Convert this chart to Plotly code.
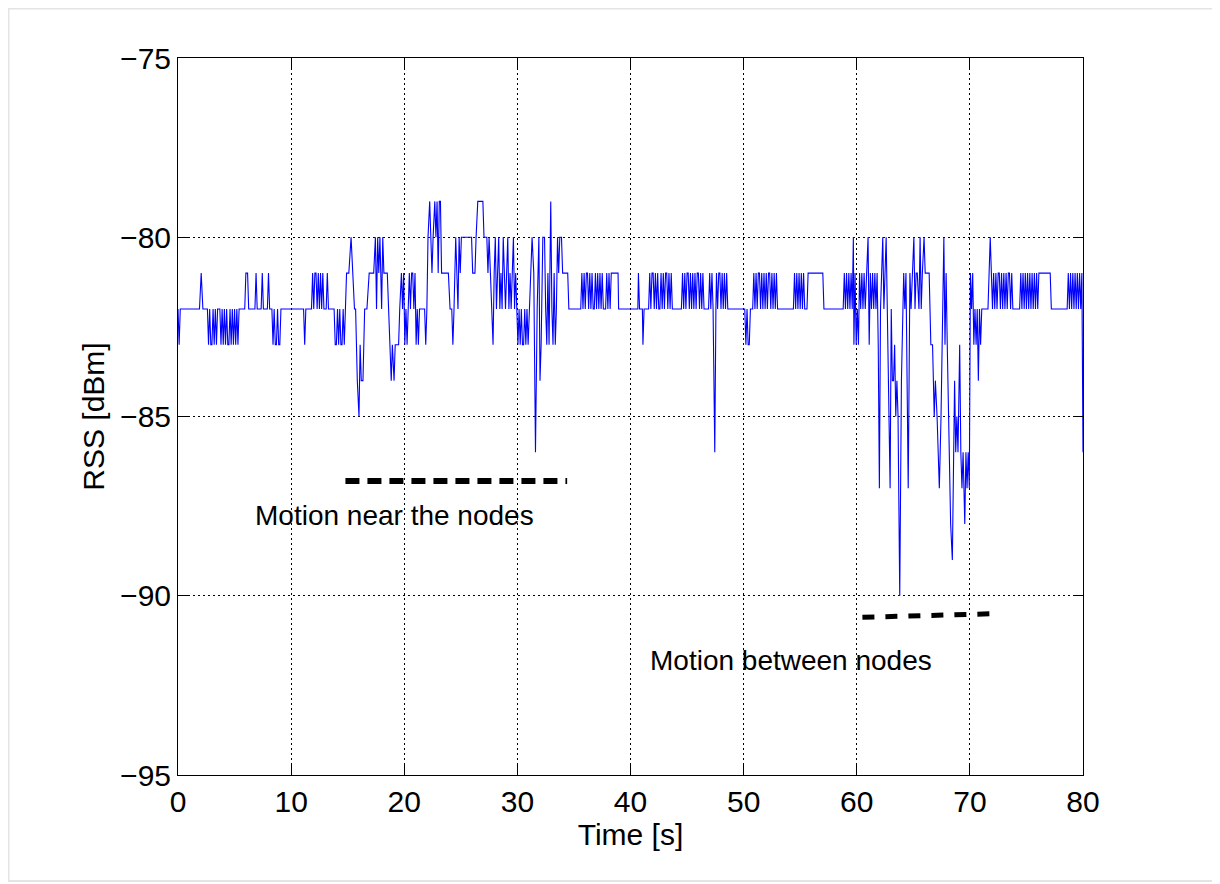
import plotly.graph_objects as go

# ---- RSS trace: (time [s], RSS [dBm]) ----
rss_00_10 = [(0.0,-82),(0.1,-83),(0.2,-82),(1.9,-82),(2.05,-81),(2.2,-82),(2.6,-82),(2.7,-83),(2.8,-82),(2.9,-83),
             (3.0,-83),(3.1,-82),(3.2,-83),(3.3,-82),(3.4,-83),(3.5,-82),(3.7,-82),(3.8,-83),(3.9,-82),(4.0,-83),
             (4.1,-82),(4.2,-83),(4.3,-82),(4.4,-83),(4.5,-83),(4.6,-82),(4.7,-83),(4.8,-82),(4.9,-83),(5.0,-82),
             (5.1,-83),(5.2,-82),(5.3,-83),(5.4,-82),(5.9,-82),(6.0,-81),(6.15,-81),(6.25,-82),(6.8,-82),(6.9,-81),
             (7.0,-82),(7.35,-82),(7.45,-81),(7.55,-82),(7.9,-82),(8.0,-81),(8.1,-82),(8.3,-82),(8.4,-83),(8.5,-82),
             (8.6,-83),(8.7,-83),(8.8,-82),(8.9,-83),(9.0,-83),(9.1,-82),(10.0,-82)]
rss_10_20 = [(11.1,-82),(11.2,-83),(11.3,-82),(11.8,-82),(11.9,-81),(12.0,-82),(12.1,-81),(12.2,-81),(12.3,-82),(12.4,-81),
             (12.5,-82),(12.6,-81),(12.7,-82),(12.8,-81),(12.9,-82),(13.1,-82),(13.2,-81),(13.3,-82),(13.8,-82),(13.9,-83),
             (14.0,-83),(14.1,-82),(14.2,-83),(14.3,-82),(14.4,-83),(14.5,-83),(14.6,-82),(14.7,-83),(14.8,-82),(14.9,-81),
             (15.1,-81),(15.3,-80),(15.45,-81),(15.6,-82),(15.7,-82),(15.85,-84),(16.0,-85),(16.1,-83),(16.2,-84),(16.35,-84),
             (16.5,-82),(16.7,-82),(16.9,-81),(17.3,-81),(17.45,-80),(17.55,-82),(17.65,-80),(17.75,-81),(17.85,-80),(18.0,-82),
             (18.1,-80),(18.2,-81),(18.5,-81),(18.6,-82),(18.7,-83),(18.85,-84),(18.95,-83),(19.1,-84),(19.2,-83),(19.5,-83),
             (19.6,-82),(19.75,-81),(19.85,-82),(19.95,-81)]
rss_20_30 = [(20.05,-83),(20.15,-82),(20.25,-83),(20.35,-82),(20.45,-81),(20.55,-82),(20.65,-81),(20.75,-81),(20.85,-82),(20.95,-81),
             (21.05,-83),(21.15,-82),(21.25,-83),(21.35,-82),(21.8,-82),(21.9,-83),(22.0,-82),(22.1,-80),(22.25,-79),(22.35,-80),
             (22.45,-81),(22.55,-80),(22.7,-79),(22.8,-80),(22.9,-79),(23.0,-81),(23.1,-79),(23.2,-79),(23.3,-81),(23.9,-81),
             (24.05,-82),(24.2,-82),(24.3,-83),(24.4,-82),(24.55,-80),(24.65,-81),(24.75,-82),(24.85,-80),(24.95,-81),(25.05,-80),
             (25.95,-80),(26.05,-81),(26.25,-81),(26.35,-80),(26.5,-79),(26.95,-79),(27.05,-80),(27.3,-80),(27.4,-81),(27.5,-80),
             (27.6,-81),(27.7,-82),(27.85,-83),(27.95,-81),(28.05,-80),(28.15,-82),(28.25,-81),(28.35,-80),(28.45,-82),(28.55,-81),
             (28.65,-82),(28.75,-80),(28.85,-81),(28.95,-82),(29.05,-81),(29.15,-80),(29.25,-82),(29.35,-81),(29.45,-82),(29.55,-81),
             (29.65,-80),(29.75,-82),(29.85,-81),(29.95,-82)]
rss_30_40 = [(30.05,-83),(30.15,-82),(30.25,-83),(30.35,-82),(30.45,-83),(30.55,-83),(30.65,-82),(30.75,-83),(30.85,-82),(30.95,-83),
             (31.05,-82),(31.15,-81),(31.3,-80),(31.45,-81),(31.6,-86),(31.75,-82),(31.9,-80),(32.0,-84),(32.1,-83),(32.25,-80),
             (32.4,-80),(32.5,-82),(32.6,-83),(32.7,-81),(32.8,-83),(32.95,-79),(33.05,-82),(33.15,-83),(33.25,-81),(33.35,-83),
             (33.45,-82),(33.55,-80),(33.65,-81),(33.75,-80),(33.9,-80),(34.0,-81),(34.45,-81),(34.55,-82),(35.6,-82),(35.7,-81),
             (35.8,-82),(35.9,-81),(36.0,-82),(36.1,-81),(36.2,-81),(36.3,-82),(36.4,-81),(36.5,-82),(36.6,-81),(36.7,-82),
             (36.8,-82),(36.9,-81),(37.0,-82),(37.1,-81),(37.2,-82),(37.3,-81),(37.4,-82),(37.5,-81),(37.6,-82),(37.8,-82),
             (37.9,-81),(38.0,-82),(38.1,-81),(38.2,-82),(38.3,-81),(38.9,-81),(38.95,-82),(40.0,-82)]
rss_40_50 = [(40.65,-82),(40.7,-81),(40.8,-82),(41.05,-82),(41.1,-83),(41.2,-82),(41.6,-82),(41.7,-81),(41.8,-82),(41.9,-81),
             (42.0,-81),(42.1,-82),(42.2,-81),(42.3,-82),(42.4,-81),(42.5,-82),(42.6,-82),(42.7,-81),(42.8,-82),(42.9,-81),
             (43.0,-82),(43.1,-81),(43.2,-81),(43.3,-82),(43.4,-81),(43.5,-82),(43.6,-81),(43.7,-82),(44.5,-82),(44.6,-81),
             (44.7,-82),(44.8,-81),(44.9,-82),(45.0,-81),(45.1,-81),(45.2,-82),(45.3,-81),(45.4,-82),(45.5,-81),(45.6,-82),
             (45.7,-81),(45.8,-82),(45.9,-81),(46.0,-81),(46.1,-82),(46.2,-81),(46.3,-82),(46.4,-81),(46.5,-82),(46.9,-82),
             (47.0,-81),(47.1,-82),(47.2,-81),(47.3,-82),(47.45,-86),(47.55,-82),(47.6,-81),(47.7,-82),(47.8,-81),(47.9,-81),
             (48.0,-82),(48.1,-81),(48.2,-82),(48.3,-81),(48.4,-82),(48.5,-81),(48.6,-82),(50.1,-82)]
rss_50_60 = [(50.2,-83),(50.3,-82),(50.4,-83),(50.5,-83),(50.6,-82),(50.8,-82),(50.9,-81),(51.0,-82),(51.1,-81),(51.2,-82),
             (51.3,-81),(51.4,-81),(51.5,-82),(51.6,-81),(51.7,-82),(51.8,-81),(51.9,-82),(52.0,-81),(52.1,-82),(52.2,-81),
             (52.3,-81),(52.4,-82),(52.5,-81),(52.6,-82),(52.7,-81),(52.8,-82),(52.9,-81),(53.0,-82),(54.4,-82),(54.5,-81),
             (54.6,-82),(54.7,-81),(54.8,-82),(54.9,-81),(55.0,-82),(55.1,-81),(55.2,-82),(55.3,-81),(55.4,-82),(55.6,-82),
             (55.7,-81),(57.0,-81),(57.1,-82),(58.8,-82),(58.9,-81),(59.0,-82),(59.1,-81),(59.2,-82),(59.3,-81),(59.4,-82),
             (59.5,-81),(59.6,-82),(59.7,-80),(59.75,-83),(59.85,-81),(59.95,-83)]
rss_60_70 = [(60.05,-82),(60.15,-83),(60.25,-81),(60.35,-82),(60.45,-81),(60.55,-82),(60.65,-81),(60.75,-82),(60.85,-81),(61.0,-80),
             (61.1,-83),(61.2,-81),(61.3,-82),(61.4,-81),(61.5,-82),(61.6,-81),(61.7,-82),(61.8,-81),(61.9,-83),(62.0,-87),
             (62.1,-82),(62.2,-81),(62.3,-80),(62.4,-82),(62.5,-81),(62.6,-80),(62.7,-82),(62.8,-84),(62.95,-87),(63.05,-82),
             (63.15,-84),(63.25,-84),(63.35,-83),(63.45,-85),(63.55,-84),(63.65,-85),(63.8,-90),(63.95,-84),(64.05,-82),(64.15,-81),
             (64.25,-82),(64.35,-81),(64.55,-87),(64.7,-81),(64.8,-82),(64.9,-81),(65.05,-80),(65.15,-82),(65.25,-81),(65.35,-81),
             (65.5,-82),(65.6,-80),(65.7,-82),(65.8,-81),(65.95,-80),(66.05,-81),(66.4,-81),(66.55,-83),(66.7,-83),(66.85,-85),
             (66.95,-84),(67.1,-85),(67.3,-87),(67.45,-85),(67.55,-83),(67.7,-80),(67.8,-83),(67.9,-81),(68.0,-83),(68.1,-85),
             (68.3,-88),(68.45,-89),(68.55,-86),(68.65,-84),(68.75,-86),(68.85,-85),(68.95,-86),(69.1,-83),(69.2,-86),(69.3,-87),
             (69.4,-86),(69.55,-88),(69.65,-86),(69.75,-87),(69.85,-86),(69.95,-87)]
rss_70_80 = [(70.05,-81),(70.15,-82),(70.25,-81),(70.35,-83),(70.45,-82),(70.55,-83),(70.65,-82),(70.75,-84),(70.85,-82),(70.95,-83),
             (71.05,-82),(71.6,-82),(71.7,-81),(71.8,-80),(71.9,-81),(72.0,-82),(72.1,-81),(72.2,-82),(72.3,-81),(72.4,-82),
             (72.5,-81),(72.6,-81),(72.7,-82),(72.8,-81),(72.9,-82),(73.0,-81),(73.1,-82),(73.2,-81),(73.3,-82),(73.4,-81),
             (73.5,-81),(73.6,-82),(73.7,-81),(73.8,-82),(74.4,-82),(74.5,-81),(74.6,-82),(74.7,-81),(74.8,-82),(74.9,-81),
             (75.0,-82),(75.1,-81),(75.2,-82),(75.3,-81),(75.4,-82),(75.5,-81),(75.6,-82),(75.7,-81),(75.8,-82),(75.9,-81),
             (76.0,-82),(76.1,-81),(77.1,-81),(77.2,-82),(78.6,-82),(78.7,-81),(78.8,-82),(78.9,-81),(79.0,-82),(79.1,-81),
             (79.2,-82),(79.3,-81),(79.4,-82),(79.5,-81),(79.6,-82),(79.7,-81),(79.8,-82),(79.9,-81),(80.0,-86)]

# ---- annotation markers ----
near_label = "Motion near the nodes"
near_t = [14.8, 34.4]
near_y = [-86.8, -86.8]
between_label = "Motion between nodes"
between_t = [60.5, 72.2]
between_y = [-90.6, -90.5]

x_ticks = [0, 10, 20, 30, 40, 50, 60, 70, 80]
y_ticks = [-95, -90, -85, -80, -75]

segments = [rss_00_10, rss_10_20, rss_20_30, rss_30_40, rss_40_50, rss_50_60, rss_60_70, rss_70_80]
t_all = [p[0] for s in segments for p in s]
v_all = [p[1] for s in segments for p in s]

FONT = "Arial, 'Liberation Sans', Helvetica, sans-serif"

fig = go.Figure()
fig.add_trace(go.Scatter(x=t_all, y=v_all, mode="lines",
                         line=dict(color="#0000ff", width=1.1), hoverinfo="x+y"))
fig.add_trace(go.Scatter(x=near_t, y=near_y, mode="lines",
                         line=dict(color="black", width=6, dash="14px,8px")))
fig.add_trace(go.Scatter(x=between_t, y=between_y, mode="lines",
                         line=dict(color="black", width=5, dash="12px,11px")))

fig.add_annotation(x=6.6, y=-87.77, text=near_label, showarrow=False,
                   xanchor="left", yanchor="middle", font=dict(size=28, color="black", family=FONT))
fig.add_annotation(x=41.55, y=-91.8, text=between_label, showarrow=False,
                   xanchor="left", yanchor="middle", font=dict(size=28, color="black", family=FONT))

# light grey frame around the whole picture
fig.add_shape(type="rect", xref="paper", yref="paper",
              x0=-0.1873, x1=1.1459, y0=-0.1478, y1=1.0690,
              line=dict(color="#e4e4e4", width=2), layer="below")

axis_common = dict(showline=True, linecolor="black", linewidth=1, mirror="ticks",
                   ticks="inside", ticklen=10, tickcolor="black", tickwidth=1,
                   showgrid=True, gridcolor="black", gridwidth=1, griddash="2px,3px",
                   zeroline=False, tickfont=dict(size=30, color="black", family=FONT))

fig.update_xaxes(range=[0, 80], tickvals=x_ticks,
                 title=dict(text="Time [s]", font=dict(size=30, color="black", family=FONT), standoff=0),
                 **axis_common)
fig.update_yaxes(range=[-95, -75], tickvals=y_ticks,
                 title=dict(text="RSS [dBm]", font=dict(size=30, color="black", family=FONT), standoff=6),
                 **axis_common)

# the page adds an 8 px body margin, so the figure is sized to fit the 1220x884 window
fig.update_layout(width=1212, height=876, showlegend=False,
                  margin=dict(l=170, r=137, t=50, b=109),
                  plot_bgcolor="white", paper_bgcolor="white")

fig.write_html("out.html")
